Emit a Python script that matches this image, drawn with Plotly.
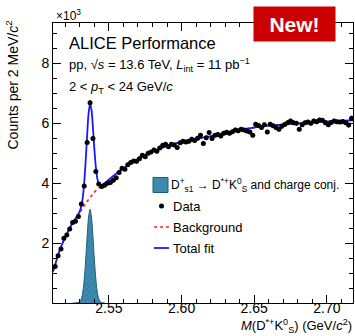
import plotly.graph_objects as go

# ---------------- data (counts in units of 10^3) ----------------
mass = [round(2.513 + 0.002 * i, 3) for i in range(103)]  # 2 MeV bin centres
counts = [1.22, 1.58, 1.80, 2.16, 2.27, 2.47, 2.69, 2.73, 2.89, 3.31,
          3.91, 5.36, 6.69, 5.49, 4.39, 3.97, 3.89, 3.93, 4.00, 4.02,
          4.10, 4.18, 4.36, 4.50, 4.47, 4.62, 4.69, 4.74, 4.73, 4.82,
          4.93, 4.88, 5.00, 5.04, 5.11, 5.07, 5.18, 5.27, 5.30, 5.22,
          5.30, 5.28, 5.19, 5.35, 5.40, 5.38, 5.40, 5.47, 5.43, 5.50,
          5.60, 5.33, 5.52, 5.69, 5.49, 5.60, 5.63, 5.58, 5.67, 5.70,
          5.67, 5.72, 5.78, 5.75, 5.80, 5.78, 5.74, 5.71, 5.60, 5.97,
          5.93, 5.86, 5.95, 5.71, 5.97, 5.92, 5.86, 5.80, 5.90, 5.96,
          6.02, 6.08, 6.02, 6.00, 5.80, 5.95, 6.02, 6.04, 6.00, 6.08,
          6.05, 6.11, 6.10, 6.02, 5.95, 6.03, 6.08, 6.05, 6.04, 6.06,
          6.02, 5.94, 6.17]
count_err = [(c / 1000.0) ** 0.5 for c in counts]  # Poisson, in 10^3

fit_mass = [2.5115, 2.513, 2.515, 2.517, 2.519, 2.521, 2.523, 2.525, 2.527, 2.529,
            2.530, 2.531, 2.532, 2.533, 2.534, 2.535, 2.536, 2.537, 2.538, 2.539,
            2.540, 2.541, 2.542, 2.543, 2.544, 2.545, 2.547, 2.550, 2.555, 2.560,
            2.570, 2.580, 2.590, 2.600, 2.620, 2.640, 2.660, 2.680, 2.700, 2.718]
bkg_fit = [1.05, 1.28, 1.60, 1.87, 2.10, 2.30, 2.50, 2.67, 2.82, 2.96,
           3.03, 3.10, 3.17, 3.25, 3.32, 3.39, 3.46, 3.52, 3.58, 3.64,
           3.70, 3.75, 3.80, 3.84, 3.88, 3.92, 4.00, 4.12, 4.32, 4.50,
           4.81, 5.06, 5.24, 5.38, 5.57, 5.78, 5.92, 6.00, 6.06, 6.10]
sig_fit = [0, 0, 0, 0, 0, 0, 0, 0, 0, 0.013,
           0.044, 0.14, 0.36, 0.78, 1.43, 2.21, 2.87, 3.13, 2.87, 2.21,
           1.43, 0.78, 0.36, 0.14, 0.044, 0.013, 0, 0, 0, 0,
           0, 0, 0, 0, 0, 0, 0, 0, 0, 0]
total_fit = [b + s for b, s in zip(bkg_fit, sig_fit)]

sig_mass = [2.525, 2.527, 2.529, 2.530, 2.531, 2.532, 2.533, 2.534, 2.535, 2.536,
            2.537, 2.538, 2.539, 2.540, 2.541, 2.542, 2.543, 2.544, 2.545, 2.547]
sig_vals = [0.0, 0.004, 0.013, 0.044, 0.14, 0.36, 0.78, 1.43, 2.21, 2.87,
            3.13, 2.87, 2.21, 1.43, 0.78, 0.36, 0.14, 0.044, 0.013, 0.0]

x_ticks = [2.55, 2.60, 2.65, 2.70]
x_ticktext = ["2.55", "2.60", "2.65", "2.70"]
y_ticks = [2, 4, 6, 8]

# ---------------- layout geometry ----------------
W, H = 355, 336
ML, MR, MT, MB = 53, 2, 23, 33
PW, PH = W - ML - MR, H - MT - MB


def px(x):
    return (x - ML) / PW


def py(y):
    return (H - MB - y) / PH


FONT = "Liberation Sans, Arial, Helvetica, sans-serif"
TEAL = "rgb(62,138,174)"
TEAL_D = "rgb(28,92,128)"
BLUE = "rgb(25,25,255)"
RED = "rgb(255,30,30)"

fig = go.Figure()

fig.add_trace(go.Scatter(
    x=sig_mass, y=sig_vals, mode="lines", line=dict(color=TEAL_D, width=1, shape="spline", smoothing=0.8),
    fill="tozeroy", fillcolor=TEAL,
    fillpattern=dict(shape="/", bgcolor=TEAL, fgcolor="rgb(45,115,150)", size=4, solidity=0.3),
    showlegend=False, hoverinfo="skip"))

fig.add_trace(go.Scatter(
    x=fit_mass, y=bkg_fit, mode="lines", line=dict(color=RED, width=1.6, dash="dot", shape="spline"),
    showlegend=False))

fig.add_trace(go.Scatter(
    x=fit_mass, y=total_fit, mode="lines", line=dict(color=BLUE, width=1.8, shape="spline", smoothing=0.9),
    showlegend=False))

fig.add_trace(go.Scatter(
    x=mass, y=counts, mode="markers", marker=dict(color="black", size=5),
    error_y=dict(type="data", array=count_err, color="black", thickness=1, width=0),
    showlegend=False))

axis_common = dict(showline=True, linecolor="black", linewidth=1, mirror="ticks",
                   ticks="inside", ticklen=8, tickwidth=1, tickcolor="black",
                   showgrid=False, zeroline=False,
                   tickfont=dict(family=FONT, size=14, color="black"))

fig.update_xaxes(range=[2.5115, 2.718], tickmode="array", tickvals=x_ticks, ticktext=x_ticktext,
                 ticklabelstandoff=-8,
                 minor=dict(tickmode="linear", tick0=2.5, dtick=0.01, ticks="inside", ticklen=4,
                            tickcolor="black", showgrid=False),
                 **axis_common)
fig.update_yaxes(range=[0, 9.35], tickmode="array", tickvals=y_ticks,
                 minor=dict(tickmode="linear", tick0=0, dtick=0.5, ticks="inside", ticklen=4,
                            tickcolor="black", showgrid=False),
                 **axis_common)

ann = []


def text(x, y, t, size=13, xanchor="left", yanchor="middle", **kw):
    ann.append(dict(x=px(x), y=py(y), xref="paper", yref="paper", text=t, showarrow=False,
                    xanchor=xanchor, yanchor=yanchor, font=dict(family=FONT, size=size, color=kw.pop("color", "black")),
                    **kw))


text(54, 15, "×10<sup>3</sup>", size=12)
text(67, 43, "ALICE Performance", size=16.5)
text(67, 65, "pp, √<i>s</i> = 13.6 TeV, <i>L</i><sub>int</sub> = 11 pb<sup>−1</sup>", size=13)
text(67, 87, "2 &lt; <i>p</i><sub>T</sub> &lt; 24 GeV/<i>c</i>", size=13)

# y title (top aligned, rotated)
text(12, 19, "Counts per 2 MeV/<i>c</i><sup>2</sup>", size=14, xanchor="center", yanchor="top", textangle=-90)
# x title (right aligned)
text(354, 326, "<i>M</i>(D<sup>*+</sup>K<sup>0</sup><sub>S</sub>) (GeV/<i>c</i><sup>2</sup>)", size=13,
     xanchor="right")

# New! badge
ann.append(dict(x=px(294.5), y=py(24), xref="paper", yref="paper", text="<b>New!</b>", showarrow=False,
                xanchor="center", yanchor="middle", bgcolor="rgb(204,0,0)", width=77, height=30,
                borderpad=2, font=dict(family=FONT, size=21, color="white")))

# legend
rows = [185, 206, 227, 248]
text(169, rows[0], "D<sup>+</sup><sub>s1</sub> → D<sup>*+</sup>K<sup>0</sup><sub>S</sub> and charge conj.", size=12)
text(171, rows[1], "Data", size=13)
text(171, rows[2], "Background", size=13)
text(171, rows[3], "Total fit", size=13)

shapes = [
    dict(type="rect", xref="paper", yref="paper", x0=px(153), x1=px(168), y0=py(192.5), y1=py(177.5),
         fillcolor=TEAL, line=dict(color=TEAL_D, width=1)),
    dict(type="circle", xref="paper", yref="paper", x0=px(159), x1=px(164), y0=py(rows[1] + 2.5),
         y1=py(rows[1] - 2.5), fillcolor="black", line=dict(color="black", width=0)),
    dict(type="line", xref="paper", yref="paper", x0=px(154), x1=px(169), y0=py(rows[2]), y1=py(rows[2]),
         line=dict(color=RED, width=1.6, dash="dot")),
    dict(type="line", xref="paper", yref="paper", x0=px(154), x1=px(169), y0=py(rows[3]), y1=py(rows[3]),
         line=dict(color=BLUE, width=1.8)),
]

fig.update_layout(width=W, height=H, margin=dict(l=ML, r=MR, t=MT, b=MB, pad=0),
                  paper_bgcolor="white", plot_bgcolor="white",
                  annotations=ann, shapes=shapes, showlegend=False,
                  font=dict(family=FONT, color="black"))

fig.write_html("out.html", config={"displayModeBar": False})
